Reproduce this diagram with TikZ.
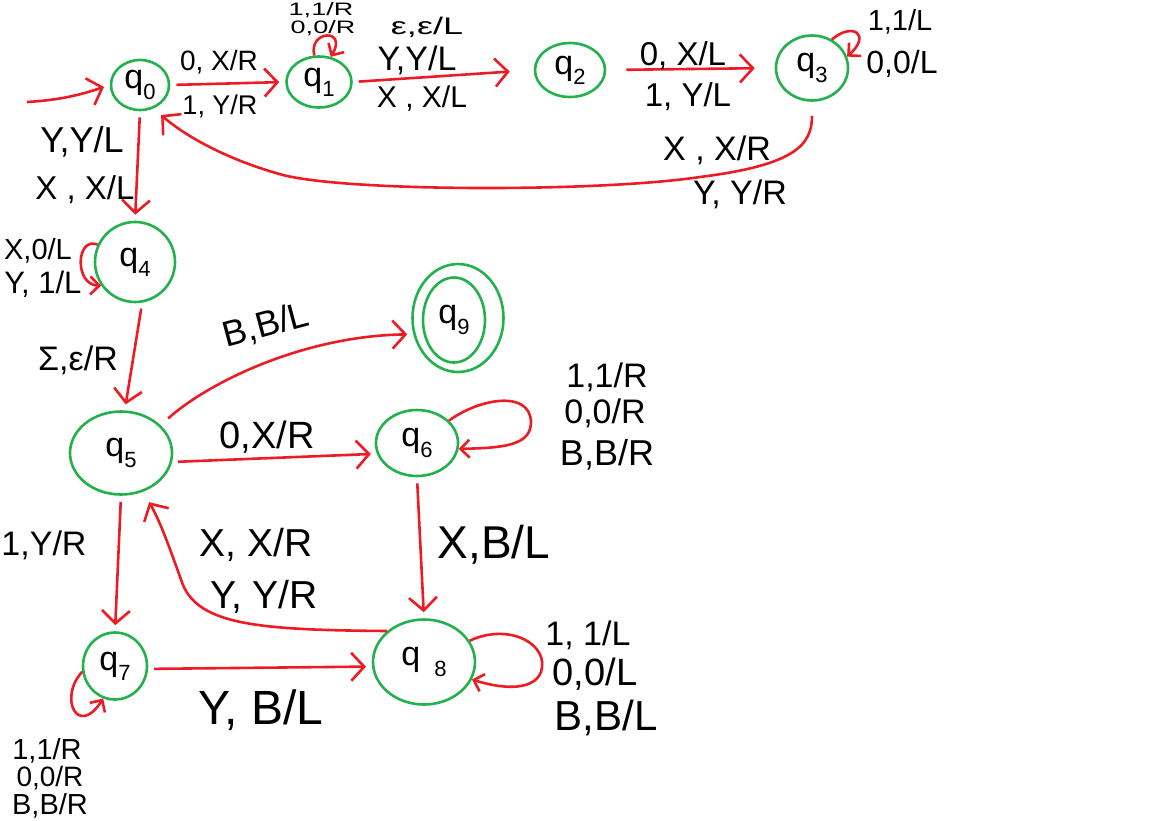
\documentclass[tikz,border=0pt]{standalone}
\usepackage{fontspec}
\usepackage{graphicx}
\setmainfont{Liberation Sans}
\usetikzlibrary{arrows.meta,shapes.geometric}
\definecolor{pgreen}{RGB}{34,177,76}
\definecolor{pred}{RGB}{237,28,36}
\newcommand{\qst}[1]{q\raisebox{-0.3em}{\fontsize{22}{22}\selectfont #1}}
\newcommand{\wideTxt}[2]{\scalebox{#1}[1]{#2}}
\tikzset{
  state/.style={ellipse,draw=pgreen,line width=2.6pt,inner sep=0pt,font=\fontsize{34}{34}\selectfont},
  edge/.style={draw=pred,line width=2.6pt,shorten >=6pt,shorten <=6pt,
    -{Straight Barb[length=13pt,width=28pt,line width=2.6pt]}},
  loopedge/.style={edge,shorten >=0pt,shorten <=0pt,
    -{Straight Barb[length=9pt,width=18pt,line width=2.6pt]}},
  lab/.style={inner sep=0pt,font=\fontsize{#1}{#1}\selectfont},
  lab/.default=30
}
\begin{document}
\begin{tikzpicture}[x=1pt,y=-1pt]
\useasboundingbox (0,0) rectangle (1152,820);
% states
\node[state,minimum width=58pt,minimum height=50pt] (q0) at (140,85) {\qst{0}};
\node[state,minimum width=65pt,minimum height=51pt] (q1) at (319,82) {\qst{1}};
\node[state,minimum width=70pt,minimum height=54pt] (q2) at (570,70) {\qst{2}};
\node[state,minimum width=72pt,minimum height=65pt] (q3) at (812,68) {\qst{3}};
\node[state,minimum width=80pt,minimum height=80pt] (q4) at (135,262) {\qst{4}};
\node[state,minimum width=91pt,minimum height=108pt] (q9) at (458,318) {};
\node[state,minimum width=62pt,minimum height=85pt] (q9i) at (454,320) {\raisebox{-12pt}{\qst{9}}};
\node[state,minimum width=102pt,minimum height=83pt] (q5) at (121,453) {\qst{5}};
\node[state,minimum width=82pt,minimum height=66pt] (q6) at (417,443) {\qst{6}};
\node[state,minimum width=64pt,minimum height=67pt] (q7) at (115,666) {\qst{7}};
\node[state,minimum width=102pt,minimum height=85pt] (q8) at (424,662) {\raisebox{-6pt}{q\hspace{14pt}\raisebox{-0.3em}{\fontsize{22}{22}\selectfont 8}}};
% start
\coordinate (s) at (27,102);
\draw[edge,shorten <=0pt] (s) .. controls (60,100) and (80,95) .. (q0.west);
% transitions
\draw[edge] (q0.east) -- (q1.west);
\draw[loopedge] (q1.100) .. controls (308,30) and (348,28) .. (q1.65);
\draw[edge,shorten >=24pt] (q1.east) -- (q2.west);
\draw[edge,shorten <=20pt,shorten >=20pt] (q2.east) -- (q3.west);
\draw[loopedge] (q3.55) .. controls (852,22) and (872,34) .. (q3.18);
\draw[edge,shorten <=14pt,shorten >=10pt] (q3.south) .. controls (812,145) and (795,165) .. (700,177)
   .. controls (600,192) and (350,192) .. (283,175)
   .. controls (235,162) and (190,140) .. (q0.-60);
\draw[edge] (q0.south) -- (q4.north);
\draw[loopedge] (q4.155) .. controls (76,236) and (74,285) .. (q4.215);
\draw[edge] (q4.-80) -- (q5.85);
\draw[edge,shorten <=10pt] (q5.35) .. controls (205,385) and (300,336) .. (q9.200);
\draw[edge] (q5.-10) -- (q6.195);
\draw[loopedge] (q6.35) .. controls (480,398) and (530,390) .. (531,422)
   .. controls (531,445) and (505,448) .. (q6.-8);
\draw[edge] (q6.south) -- (q8.north);
\draw[edge] (q5.south) -- (q7.north);
\draw[edge,shorten <=0pt,shorten >=12pt] (q8.140) .. controls (260,630) and (200,625) .. (183,585)
   .. controls (172,555) and (162,525) .. (q5.-60);
\draw[edge] (q7.-5) -- (q8.185);
\draw[loopedge] (q7.190) .. controls (58,698) and (78,738) .. (q7.-110);
\draw[loopedge] (q8.25) .. controls (510,622) and (550,645) .. (541,672)
   .. controls (534,690) and (505,690) .. (q8.-20);
% labels
\node[lab=28] (l01a) at (219,62) {0, X/R};
\node[lab=27] (l01b) at (220,106) {1, Y/R};
\node[lab=18] (l11a) at (321,10) {\wideTxt{1.5}{1,1/R}};
\node[lab=18] (l11b) at (323,28) {\wideTxt{1.5}{0,0/R}};
\node[lab=24] (l12a) at (427,27) {\wideTxt{1.5}{ε,ε/L}};
\node[lab=34] (l12b) at (417,60) {Y,Y/L};
\node[lab=30] (l12c) at (422,99) {X , X/L};
\node[lab=33] (l23a) at (683,56) {0, X/L};
\node[lab=33] (l23b) at (688,97) {1, Y/L};
\node[lab=29] (l33a) at (900,22) {1,1/L};
\node[lab=32] (l33b) at (902,64) {0,0/L};
\node[lab=34] (l30a) at (717,150) {X , X/R};
\node[lab=34] (l30b) at (740,194) {Y, Y/R};
\node[lab=36] (l04a) at (82,142) {Y,Y/L};
\node[lab=33] (l04b) at (85,190) {X , X/L};
\node[lab=29] (l44a) at (38,251) {X,0/L};
\node[lab=31] (l44b) at (43,284) {Y, 1/L};
\node[lab=34] (l45) at (78,360) {Σ,ε/R};
\node[lab=36,rotate=15] (l59) at (266,326) {B,B/L};
\node[lab=38] (l56) at (267,437) {0,X/R};
\node[lab=34] (l66a) at (607,377) {1,1/R};
\node[lab=34] (l66b) at (605,413) {0,0/R};
\node[lab=36] (l66c) at (607,455) {B,B/R};
\node[lab=46] (l68) at (494,545) {X,B/L};
\node[lab=34] (l57) at (44,545) {1,Y/R};
\node[lab=39] (l85a) at (256,545) {X, X/R};
\node[lab=39] (l85b) at (264,597) {Y, Y/R};
\node[lab=48] (l78) at (261,710) {Y, B/L};
\node[lab=29] (l77a) at (47,751) {1,1/R};
\node[lab=28] (l77b) at (50,778) {0,0/R};
\node[lab=29] (l77c) at (50,806) {B,B/R};
\node[lab=34] (l88a) at (588,635) {1, 1/L};
\node[lab=38] (l88b) at (595,674) {0,0/L};
\node[lab=42] (l88c) at (606,718) {B,B/L};
\end{tikzpicture}
\end{document}
